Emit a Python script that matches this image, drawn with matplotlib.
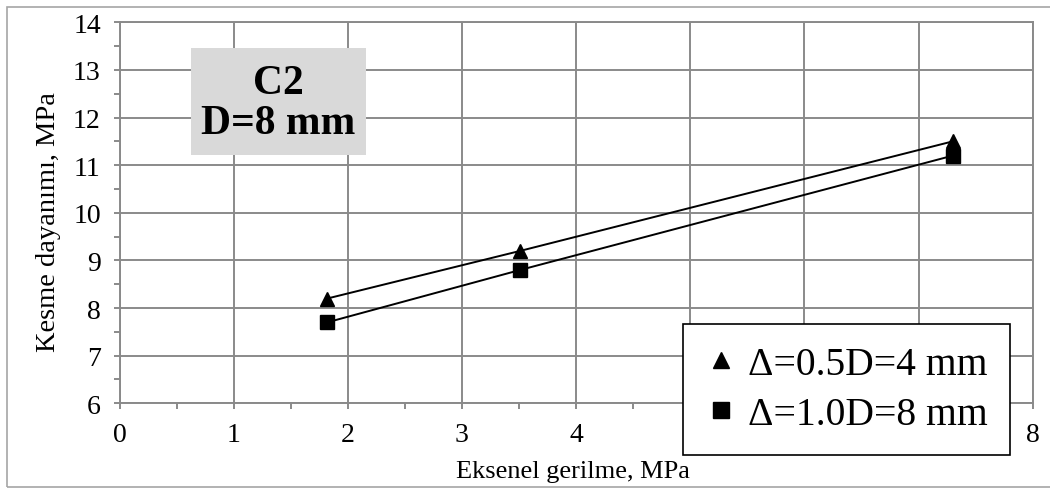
import matplotlib
matplotlib.use("Agg")
import matplotlib.pyplot as plt
from matplotlib.lines import Line2D
from matplotlib.patches import Rectangle
from matplotlib.ticker import MultipleLocator

plt.rcParams['font.family'] = ['Liberation Serif', 'DejaVu Serif']

# Axial stress (MPa) and shear strength (MPa) for the two offset cases
axial_stress = [1.82, 3.51, 7.30]
shear_half_d = [8.2, 9.2, 11.5]
shear_full_d = [7.7, 8.8, 11.2]
series_labels = ["Δ=0.5D=4 mm", "Δ=1.0D=8 mm"]
x_ticks = [0, 1, 2, 3, 4, 5, 6, 7, 8]
y_ticks = [6, 7, 8, 9, 10, 11, 12, 13, 14]

W, H = 1050, 489
AX_L, AX_R, AX_T, AX_B = 119.5, 1032.7, 23.3, 404.3
fig = plt.figure(figsize=(W / 100, H / 100), dpi=100)
ax = fig.add_axes([AX_L / W, 1 - AX_B / H, (AX_R - AX_L) / W, (AX_B - AX_T) / H])

grid_c = "#8a8a8a"
ax.set_xlim(x_ticks[0], x_ticks[-1])
ax.set_ylim(y_ticks[0], y_ticks[-1])
ax.set_xticks(x_ticks)
ax.set_yticks(y_ticks)
ax.xaxis.set_minor_locator(MultipleLocator(0.5))
ax.yaxis.set_minor_locator(MultipleLocator(0.5))
ax.grid(True, which="major", color=grid_c, linewidth=1.4)
ax.set_axisbelow(True)
for s in ax.spines.values():
    s.set_color(grid_c)
    s.set_linewidth(1.4)
ax.tick_params(which="both", direction="out", color=grid_c, width=1.4,
               length=4.5, labelsize=20, pad=9)

# Label box in the upper left
fig.add_artist(Rectangle((191 / W, 1 - 156 / H), 175 / W, 107 / H,
                         transform=fig.transFigure, facecolor="#d9d9d9",
                         edgecolor="none", zorder=3))
fig.text(278.5 / W, 1 - 104 / H, "C2\nD=8 mm", ha="center", va="center",
         fontsize=30, fontweight="bold", linespacing=1.1, zorder=4)

ax.plot(axial_stress, shear_half_d, color="black", linewidth=1.4,
        marker="^", markersize=10.5, zorder=5)
ax.plot(axial_stress, shear_full_d, color="black", linewidth=1.4,
        marker="s", markersize=10, zorder=5)


def to_ax(px, py):
    return (px - AX_L) / (AX_R - AX_L), (AX_B - py) / (AX_B - AX_T)


ax.set_xlabel("Eksenel gerilme, MPa", fontsize=19)
ax.xaxis.label.set_va("center")
ax.xaxis.set_label_coords(*to_ax(573, 472))
ax.set_ylabel("Kesme dayanımı, MPa", fontsize=20.5)
ax.yaxis.label.set_va("center")
ax.yaxis.label.set_rotation_mode("anchor")
ax.yaxis.set_label_coords(*to_ax(48.5, 222))

handles = [
    Line2D([], [], color="black", marker="^", linestyle="none", markersize=12),
    Line2D([], [], color="black", marker="s", linestyle="none", markersize=11),
]
leg = ax.legend(handles, series_labels, loc="center",
                bbox_to_anchor=to_ax(846.5, 390.5), fontsize=28.5, frameon=True,
                fancybox=False, framealpha=1, edgecolor="black",
                handlelength=0.8, handletextpad=0.3, borderpad=0.55,
                labelspacing=0.32, borderaxespad=0)
leg.get_frame().set_linewidth(1.2)
leg.set_zorder(10)

# Outer chart border
fig.add_artist(Rectangle((7 / W, 1 - 488 / H), 1.05, (488 - 8) / H,
                         transform=fig.transFigure, facecolor="none",
                         edgecolor="#a6a6a6", linewidth=1.2))

fig.savefig("out.png", dpi=100)
